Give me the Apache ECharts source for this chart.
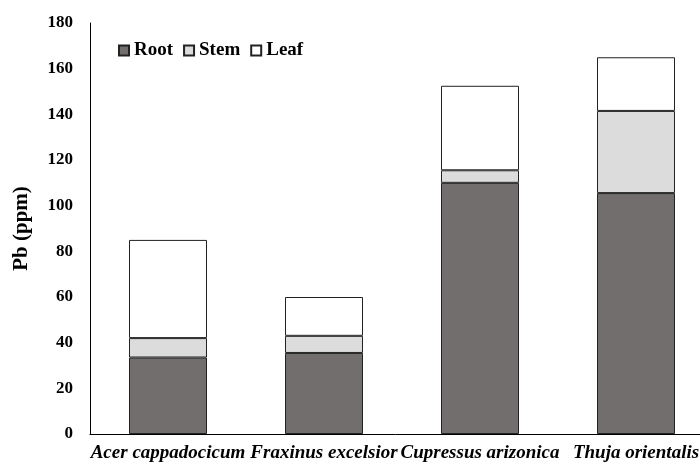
<!DOCTYPE html>
<html>
<head>
<meta charset="utf-8">
<script src="https://cdn.jsdelivr.net/npm/echarts@6/dist/echarts.min.js"></script>
<style>
  html, body { margin: 0; padding: 0; background: #fff; }
  #chart { width: 700px; height: 466px; }
</style>
</head>
<body>
<div id="chart"></div>
<script>
// species on the x axis
const species = ['Acer cappadocicum', 'Fraxinus excelsior', 'Cupressus arizonica', 'Thuja orientalis'];
// Pb (ppm) per organ, stacked
const root = [33.5, 35.5, 110, 105.5];
const stem = [8.5, 7.5, 5.5, 36];
const leaf = [43, 17, 37, 23.5];

const font = '"Liberation Serif", "Times New Roman", serif';
const chart = echarts.init(document.getElementById('chart'));

const barSeries = (name, data, color) => ({
  name: name,
  type: 'bar',
  stack: 'pb',
  barWidth: '50%',
  data: data,
  itemStyle: { color: color, borderColor: '#222', borderWidth: 1 },
});

chart.setOption({
  animation: false,
  textStyle: { fontFamily: font },
  legend: {
    left: 113,
    top: 36,
    icon: 'rect',
    itemWidth: 10,
    itemHeight: 10,
    itemGap: 10,
    textStyle: { fontFamily: font, fontWeight: 'bold', fontSize: 19, color: '#000' },
    data: ['Root', 'Stem', 'Leaf'],
  },
  grid: { left: 90, top: 23, bottom: 32, width: 624, outerBoundsMode: 'none' },
  xAxis: {
    type: 'category',
    data: species,
    axisLine: { lineStyle: { color: '#000' } },
    axisTick: { show: false },
    axisLabel: {
      interval: 0,
      color: '#000',
      fontFamily: font,
      fontStyle: 'italic',
      fontWeight: 'bold',
      fontSize: 19,
      margin: 10,
    },
  },
  yAxis: {
    type: 'value',
    min: 0,
    max: 180,
    interval: 20,
    name: 'Pb (ppm)',
    nameLocation: 'middle',
    nameGap: 58,
    nameTextStyle: { fontFamily: font, fontWeight: 'bold', fontSize: 21, color: '#000' },
    axisLine: { show: true, lineStyle: { color: '#000' } },
    axisTick: { show: false },
    splitLine: { show: false },
    axisLabel: { color: '#000', fontFamily: font, fontWeight: 'bold', fontSize: 17, margin: 17 },
  },
  series: [
    barSeries('Root', root, '#726e6d'),
    barSeries('Stem', stem, '#dcdcdc'),
    barSeries('Leaf', leaf, '#ffffff'),
  ],
});
</script>
</body>
</html>
